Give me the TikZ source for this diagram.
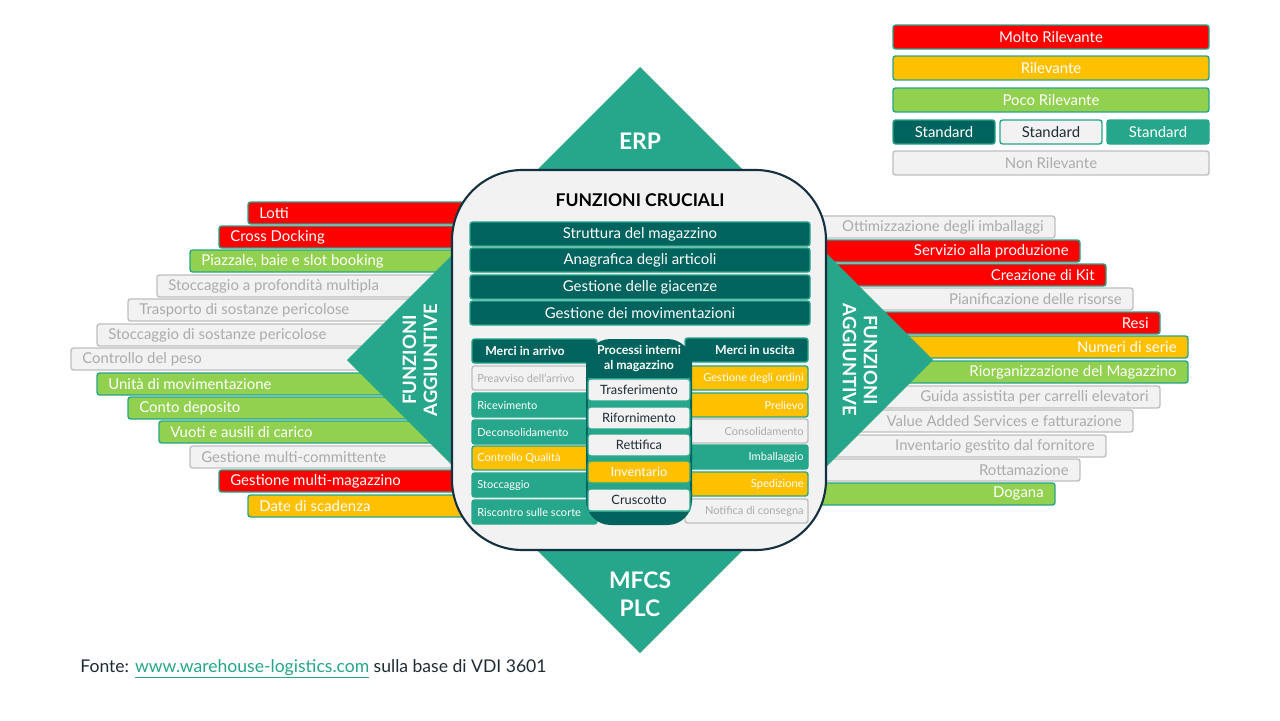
\documentclass[tikz,border=0pt]{standalone}
\usepackage{fontspec}
\setmainfont{Lato}
\usetikzlibrary{calc}
\definecolor{cR}{HTML}{FF0000}
\definecolor{cY}{HTML}{FFC000}
\definecolor{cG}{HTML}{92D050}
\definecolor{cN}{HTML}{F2F2F2}
\definecolor{cNb}{HTML}{BFBFBF}
\definecolor{cNt}{HTML}{ABABAB}
\definecolor{cT}{HTML}{26A68A}
\definecolor{cD}{HTML}{00635E}
\definecolor{cK}{HTML}{1E2B33}
\definecolor{cE}{HTML}{163040}
\tikzset{
  box/.style={draw=cT, line width=0.8pt, rounded corners=1.5pt},
  bR/.style={box, fill=cR}, bY/.style={box, fill=cY}, bG/.style={box, fill=cG},
  bT/.style={box, fill=cT}, bD/.style={box, fill=cD},
  bN/.style={box, draw=cNb, fill=cN}, bS/.style={box, fill=cN},
  lbl/.style={font=\fontsize{8.5}{10}\selectfont, inner sep=0pt},
  tR/.style={lbl, text=white}, tY/.style={tR}, tG/.style={tR}, tT/.style={tR}, tD/.style={tR},
  tN/.style={lbl, text=cNt}, tS/.style={lbl, text=cK},
  small/.style={font=\fontsize{6.3}{7.5}\selectfont},
  big/.style={font=\fontsize{13}{15}\bfseries, text=white, inner sep=0pt}
}
\begin{document}
\begin{tikzpicture}[x=0.02cm, y=-0.02cm]
  \useasboundingbox (0,0) rectangle (1280,720);

  % legenda
  \foreach \y/\c/\t in {37/R/Molto Rilevante, 68/Y/Rilevante, 100/G/Poco Rilevante, 163/N/Non Rilevante}{
    \draw[b\c] (893,\y-12) rectangle (1209,\y+12);
    \node[t\c] (k\c) at (1051,\y) {\t};
  }
  \foreach \x/\c [count=\i] in {893/D, 1000/S, 1107/T}{
    \draw[b\c] (\x,120) rectangle (\x+102,144);
    \node[t\c] (ks\i) at (\x+51,132) {Standard};
  }

  % funzioni aggiuntive a sinistra
  \foreach \y/\x/\c/\t [count=\i] in {
    213/248/R/Lotti, 237/219/R/Cross Docking, 261/190/G/{Piazzale, baie e slot booking},
    286/157/N/Stoccaggio a profondità multipla, 310/128/N/Trasporto di sostanze pericolose,
    335/97/N/Stoccaggio di sostanze pericolose, 359/71/N/Controllo del peso,
    384/97/G/Unità di movimentazione, 408/128/G/Conto deposito, 432/159/G/Vuoti e ausili di carico,
    457/190/N/Gestione multi-committente, 481/219/R/Gestione multi-magazzino, 506/248/Y/Date di scadenza}{
    \draw[b\c] (\x,\y-11) rectangle (480,\y+11);
    \node[t\c, anchor=west] (l\i) at (\x+11,\y) {\t};
  }

  % funzioni aggiuntive a destra
  \foreach \y/\x/\c/\t [count=\i] in {
    227/1055/N/Ottimizzazione degli imballaggi, 251/1080/R/Servizio alla produzione,
    275/1106/R/Creazione di Kit, 299/1133/N/Pianificazione delle risorse, 323/1160/R/Resi,
    347/1188/Y/Numeri di serie, 372/1188/G/Riorganizzazione del Magazzino,
    397/1160/N/Guida assistita per carrelli elevatori, 421/1133/N/Value Added Services e fatturazione,
    446/1106/N/Inventario gestito dal fornitore, 470/1080/N/Rottamazione, 494/1055/G/Dogana}{
    \draw[b\c] (800,\y-11) rectangle (\x,\y+11);
    \node[t\c, anchor=east] (r\i) at (\x-11,\y) {\t};
  }

  % rombo
  \fill[cT] (640,67) -- (933,360) -- (640,653) -- (347,360) -- cycle;
  \node[big] (erp) at (640,141) {ERP};
  \node[big, align=center] (mfcs) at (640,594) {MFCS\\[1pt]PLC};
  \node[big, font=\fontsize{10.5}{12}\bfseries, align=center, rotate=90] (fl) at (420,360) {FUNZIONI\\AGGIUNTIVE};
  \node[big, font=\fontsize{10.5}{12}\bfseries, align=center, rotate=-90] (fr) at (860,360) {FUNZIONI\\AGGIUNTIVE};

  % funzioni cruciali
  \draw[draw=cE, fill=cN, line width=1.2pt, rounded corners=40] (452,170) rectangle (826,550);
  \node[lbl, font=\fontsize{10}{12}\bfseries, text=black] (fc) at (640,200) {FUNZIONI CRUCIALI};
  \foreach \y/\t [count=\i] in {234/Struttura del magazzino, 260/Anagrafica degli articoli,
    287/Gestione delle giacenze, 313/Gestione dei movimentazioni}{
    \draw[bD] (470,\y-12) rectangle (810,\y+12);
    \node[tD] (c\i) at (640,\y) {\t};
  }

  % merci in arrivo
  \draw[bD] (472,339) rectangle (597,363);
  \node[tD, small, font=\fontsize{7}{8}\bfseries] (ma) at (525,351) {Merci in arrivo};
  \foreach \y/\c/\t [count=\i] in {378/N/Preavviso dell'arrivo, 405/T/Ricevimento, 432/T/Deconsolidamento,
    458/Y/Controllo Qualità, 485/T/Stoccaggio, 512/T/Riscontro sulle scorte}{
    \draw[b\c] (472,\y-12) rectangle (597,\y+12);
    \node[t\c, small, anchor=west] (a\i) at (477,\y) {\t};
  }

  % merci in uscita
  \draw[bD] (685,338) rectangle (808,362);
  \node[tD, font=\fontsize{7}{8}\bfseries] (mu) at (755,350) {Merci in uscita};
  \foreach \y/\c/\t [count=\i] in {378/Y/Gestione degli ordini, 405/Y/Prelievo, 431/N/Consolidamento,
    457/T/Imballaggio, 484/Y/Spedizione, 511/N/Notifica di consegna}{
    \draw[b\c] (685,\y-12) rectangle (808,\y+12);
    \node[t\c, small, anchor=east] (u\i) at (804,\y) {\t};
  }

  % processi interni
  \fill[cD, rounded corners=14] (586,339) rectangle (692,525);
  \fill[cT] (588,378) rectangle (690,512);
  \node[tD, font=\fontsize{7}{8.5}\bfseries, align=center] (pi) at (639,359) {Processi interni\\al magazzino};
  \foreach \y/\c/\t [count=\i] in {390/S/Trasferimento, 418/S/Rifornimento, 445/S/Rettifica,
    472/Y/Inventario, 500/S/Cruscotto}{
    \draw[b\c] (588,\y-11) rectangle (690,\y+11);
    \node[t\c, font=\fontsize{7.3}{8.5}\selectfont] (p\i) at (639,\y) {\t};
  }

  % fonte
  \node[anchor=west, inner sep=0pt, font=\fontsize{10}{12}\selectfont, text=cK] (src) at (80,669)
    {Fonte: \textcolor{cT}{\underline{www.warehouse-logistics.com}} sulla base di VDI 3601};
\end{tikzpicture}
\end{document}
